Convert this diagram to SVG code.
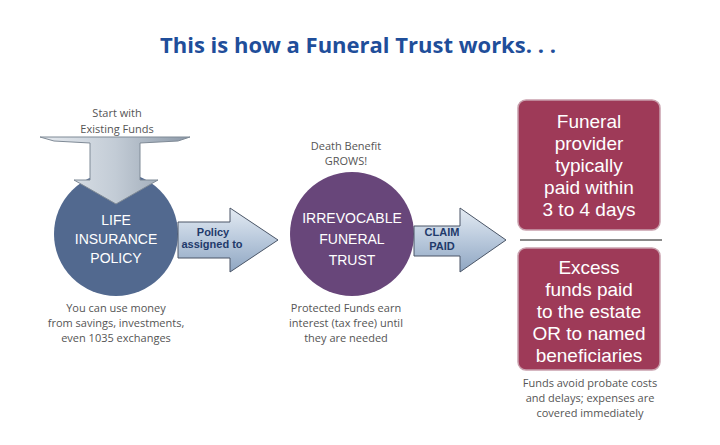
<svg xmlns="http://www.w3.org/2000/svg" width="720" height="445" viewBox="0 0 720 445">
<defs>
<linearGradient id="ag" x1="0" y1="0" x2="0" y2="1"><stop offset="0" stop-color="#e4ebf3"/><stop offset="0.5" stop-color="#b9c9dc"/><stop offset="1" stop-color="#8fa6c2"/></linearGradient>
<linearGradient id="dg" x1="0" y1="0" x2="1" y2="0"><stop offset="0" stop-color="#e6eaef"/><stop offset="0.5" stop-color="#c3ccd6"/><stop offset="1" stop-color="#8c99a8"/></linearGradient>
</defs>
<style>
.t{font-family:"Open Sans","Liberation Sans",sans-serif;fill:#555;font-size:11px;text-anchor:middle}
.c{font-family:"Liberation Sans",Arial,sans-serif;fill:#fff;font-size:14px;text-anchor:middle}
.a{font-family:"Liberation Sans",Arial,sans-serif;fill:#1f3a6b;font-size:11px;font-weight:bold;text-anchor:middle}
.b{font-family:"Liberation Sans",Arial,sans-serif;fill:#fff;font-size:19px;text-anchor:middle}
.box{fill:#9e3a58;stroke:#c9a0ad;stroke-width:1.5}
</style>
<rect width="720" height="445" fill="#fff"/>
<text x="358" y="53" font-family="'Open Sans','Liberation Sans',sans-serif" font-size="22" font-weight="bold" fill="#1f4e9a" text-anchor="middle">This is how a Funeral Trust works. . .</text>
<g id="life">
<circle cx="116" cy="234" r="62" fill="#52698f"/>
<text class="c" x="116" y="225">LIFE</text><text class="c" x="116" y="244">INSURANCE</text><text class="c" x="116" y="263">POLICY</text>
<text class="t" x="116" y="312">You can use money</text><text class="t" x="116" y="327">from savings, investments,</text><text class="t" x="116" y="342">even 1035 exchanges</text>
</g>
<g id="trust">
<circle cx="352" cy="234" r="62" fill="#68467a"/>
<text class="c" x="352" y="223">IRREVOCABLE</text><text class="c" x="352" y="244">FUNERAL</text><text class="c" x="352" y="265">TRUST</text>
</g>
<g id="connectors">
<path d="M40,137 L190,137 L178,141 L140,143 L140,180 L158,180 L116,204 L74,180 L90,180 L90,143 L54,141 Z" fill="url(#dg)" stroke="#7f8a96" stroke-width="1"/>
<path d="M178,222 L230,222 L230,208 L278,240 L230,272 L230,258 L178,258 Z" fill="url(#ag)" stroke="#4a5566" stroke-width="1"/>
<text class="a" x="213" y="236">Policy</text>
<text class="a" x="212" y="248">assigned to</text>
<path d="M414,226 L460,226 L460,208 L506,240 L460,272 L460,256 L414,256 Z" fill="url(#ag)" stroke="#4a5566" stroke-width="1"/>
<text class="a" x="442" y="236">CLAIM</text>
<text class="a" x="442" y="250">PAID</text>
<line x1="520" y1="240" x2="662" y2="240" stroke="#8a8a8a" stroke-width="2"/>
</g>
<g id="start"><text class="t" x="117" y="117">Start with</text><text class="t" x="117" y="133">Existing Funds</text></g>
<g id="trustlabels">
<text class="t" x="346" y="150">Death Benefit</text><text class="t" x="346" y="165">GROWS!</text>
<text class="t" x="346" y="312">Protected Funds earn</text><text class="t" x="346" y="327">interest (tax free) until</text><text class="t" x="346" y="342">they are needed</text>
</g>
<g id="provider">
<rect class="box" x="518" y="100" width="142" height="130" rx="8"/>
<text class="b" x="589" y="128">Funeral</text><text class="b" x="589" y="150">provider</text><text class="b" x="589" y="172">typically</text><text class="b" x="589" y="194">paid within</text><text class="b" x="589" y="216">3 to 4 days</text>
</g>
<g id="excess">
<rect class="box" x="518" y="248" width="142" height="122" rx="8"/>
<text class="b" x="589" y="274">Excess</text><text class="b" x="589" y="296">funds paid</text><text class="b" x="589" y="318">to the estate</text><text class="b" x="589" y="340">OR to named</text><text class="b" x="589" y="362">beneficiaries</text>
<text class="t" x="590" y="387">Funds avoid probate costs</text><text class="t" x="590" y="402">and delays; expenses are</text><text class="t" x="590" y="417">covered immediately</text>
</g>
</svg>
